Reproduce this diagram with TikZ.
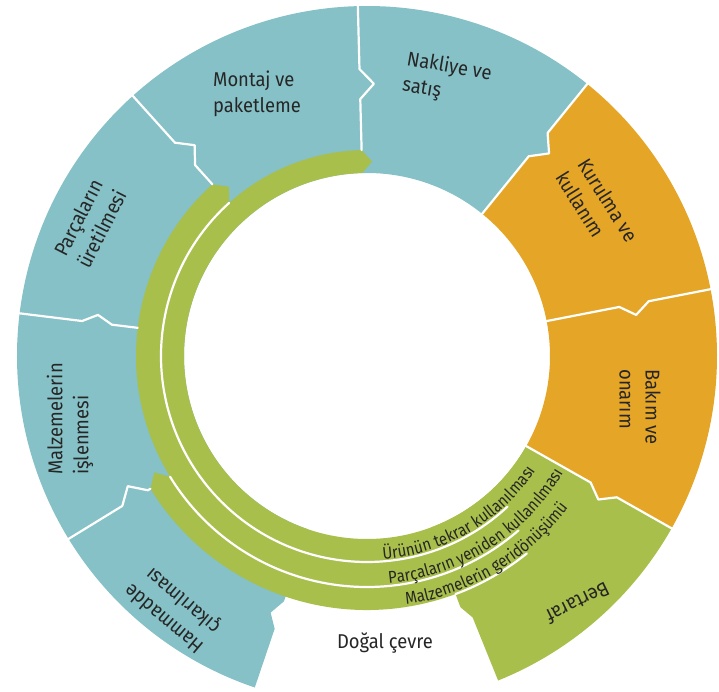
\documentclass[tikz,border=0pt]{standalone}
\usepackage{fontspec}
\setmainfont{Fira Sans}[FakeStretch=0.92]
\newfontfamily\bandfam{Fira Sans}[FakeStretch=0.88]
\usetikzlibrary{calc,decorations.text}
\definecolor{cTeal}{HTML}{85C1C6}
\definecolor{cOrange}{HTML}{E5A628}
\definecolor{cGreen}{HTML}{A8BF4B}
\definecolor{cText}{HTML}{262626}
\newcommand\bandfont{\bandfam\fontsize{17}{20}\selectfont}
% segment: colour, start angle (ccw side), end angle (cw side), tab size
\newcommand\ringseg[4]{%
  \fill[#1] (#2:350pt) arc[start angle=#2,end angle=#3,radius=350pt]
    -- (#3:287pt) -- ($(#3:272pt)+(#3-90:#4)$) -- (#3:257pt) -- (#3:183pt)
    arc[start angle=#3,end angle=#2,radius=183pt] -- cycle;}
% boundary line: angle, inner radius, tab size
\newcommand\ringbnd[3]{%
  \draw[sep] (#1:352pt) -- (#1:287pt) -- ($(#1:272pt)+(#1-90:#3)$) -- (#1:257pt) -- (#1:#2);}
\begin{document}
\begin{tikzpicture}[x=1pt,y=1pt,
  lbl/.style={align=left,inner sep=0pt,text=cText,font=\fontsize{20}{26}\selectfont},
  sep/.style={draw=white,line width=2.2pt,line join=round,line cap=round},
  bandtext/.style={decorate,decoration={text along path,text color=cText,text align=left}}]
\useasboundingbox (-367,-336) rectangle (352,356);
% outer ring segments
\fill[cGreen] (-29.5:350pt) arc[start angle=-29.5,end angle=-68,radius=350pt]
  -- (-68:282pt) -- (-69.6:268pt) -- (-69.6:183pt)
  arc[start angle=-69.6,end angle=-29.5,radius=183pt] -- cycle;
\ringseg{cOrange}{11}{-29.5}{11pt}
\ringseg{cOrange}{51}{11}{11pt}
\ringseg{cTeal}{91.5}{51}{14pt}
\ringseg{cTeal}{132}{91.5}{14pt}
\ringseg{cTeal}{173}{132}{13pt}
\ringseg{cTeal}{211.5}{173}{8pt}
\fill[cTeal] (251.3:350pt) arc[start angle=251.3,end angle=211.5,radius=350pt]
  -- (211.5:287pt) -- ($(211.5:272pt)+(121.5:14pt)$) -- (211.5:257pt) -- (211.5:183pt)
  arc[start angle=211.5,end angle=251.3,radius=183pt]
  -- (251.3:259pt) -- ($(251.3:274pt)+(161.3:9pt)$) -- (251.3:288pt) -- cycle;
% green return bands
\fill[cGreen] (-29.5:206pt) arc[start angle=-29.5,end angle=-268.5,radius=206pt]
  -- (-271.5:194.5pt) -- (-268.5:183pt)
  arc[start angle=-268.5,end angle=-29.5,radius=183pt] -- cycle;
\fill[cGreen] (-29.5:231pt) arc[start angle=-29.5,end angle=-228,radius=231pt]
  -- (-230.8:218.5pt) -- (-228:206pt)
  arc[start angle=-228,end angle=-29.5,radius=206pt] -- cycle;
\fill[cGreen] (-29.5:254pt) arc[start angle=-29.5,end angle=-148.5,radius=254pt]
  -- (-151.3:242.5pt) -- (-148.5:231pt)
  arc[start angle=-148.5,end angle=-29.5,radius=231pt] -- cycle;
\draw[sep] (-47:206pt) arc[start angle=-47,end angle=-228,radius=206pt];
\draw[sep] (-49:231pt) arc[start angle=-49,end angle=-148.5,radius=231pt];
\draw[sep] (-51:254pt) arc[start angle=-51,end angle=-69.6,radius=254pt];
% segment boundaries
\ringbnd{-29.5}{183pt}{11pt}
\ringbnd{11}{183pt}{11pt}
\ringbnd{51}{183pt}{14pt}
\ringbnd{91.5}{206pt}{14pt}
\ringbnd{132}{231pt}{13pt}
\ringbnd{173}{231pt}{8pt}
\ringbnd{211.5}{254pt}{14pt}
% band labels
\path[bandtext,decoration={text={|\bandfont|Ürünün tekrar kullanılması}}]
  (-85.5:204pt) arc[start angle=-85.5,end angle=-5,radius=204pt];
\path[bandtext,decoration={text={|\bandfont|Parçaların yeniden kullanılması}}]
  (-84.5:228.5pt) arc[start angle=-84.5,end angle=-5,radius=228.5pt];
\path[bandtext,decoration={text={|\bandfont|Malzemelerin geridönüşümü}}]
  (-81:252pt) arc[start angle=-81,end angle=-10,radius=252pt];
% stage labels
\node[lbl] (montaj) at (-110,262) {Montaj ve\\paketleme};
\node[lbl,rotate=-10] (nakliye) at (80,276) {Nakliye ve\\satış};
\node[lbl,rotate=-58] (kurulma) at (230,149) {Kurulma ve\\kullanım};
\node[lbl,rotate=-90] (bakim) at (273,-51) {Bakım ve\\onarım};
\node[lbl,rotate=206] (bertaraf) at (211,-247) {Bertaraf};
\node[lbl,rotate=140] (hammadde) at (-194,-252) {Hammadde\\çıkarılması};
\node[lbl,rotate=90] (malzeme) at (-297,-63) {Malzemelerin\\işlenmesi};
\node[lbl,rotate=63] (parca) at (-277,133) {Parçaların\\üretilmesi};
\node[lbl] (dogal) at (18,-287) {Doğal çevre};
\end{tikzpicture}
\end{document}
